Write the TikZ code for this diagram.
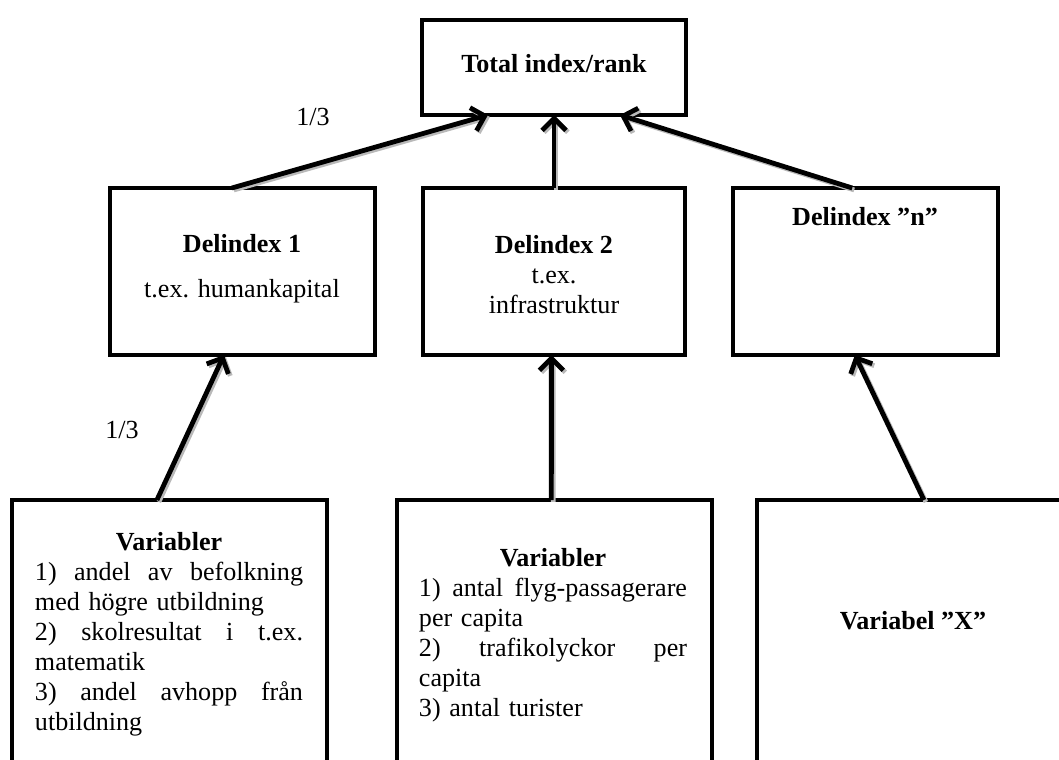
\documentclass[tikz,border=0pt]{standalone}
\usepackage{fontspec}
\setmainfont{Liberation Serif}
\usetikzlibrary{arrows.meta,calc}
\newcommand{\fulline}[1]{\makebox[\linewidth][s]{\spaceskip=0pt\xspaceskip=0pt\relax #1}}
\newcommand{\midline}[1]{\makebox[\linewidth][c]{#1}}

\begin{document}
\begin{tikzpicture}[x=0.46pt,y=-0.46pt]
				\tikzstyle{every node}+=[inner sep=0pt, font=\fontsize{12}{13.8}\selectfont]
				\tikzstyle{box}=[draw, line width=2.2pt, outer sep=0pt, anchor=north west]
				\tikzstyle{pil}=[line width=2.2pt, -{Straight Barb[length=5.5pt,width=11pt]}, preaction={draw=gray!55, line width=2.2pt, transform canvas={shift={(0.9pt,-0.9pt)}}}]
				\tikzstyle{lista}=[text width=123.3pt, align=left, anchor=north]
				\clip (0,0) rectangle (1059,760);
				\node [box, minimum width=121.44pt, minimum height=43.7pt] (total) at (422,20) {};
				\node [anchor=base] (ttotal) at (554,72) {\textbf{Total index/rank}};
				\node [box, minimum width=121.9pt, minimum height=76.82pt] (del1) at (110,188) {};
				\node [box, minimum width=120.52pt, minimum height=76.82pt] (del2) at (423,188) {};
				\node [box, minimum width=121.9pt, minimum height=76.82pt] (deln) at (733,188) {};
				\node [anchor=base] (tdel1) at (242,252) {\textbf{Delindex 1}};
				\node [anchor=base] (tkap) at (242,297) {t.ex. humankapital};
				\node [anchor=north, align=center] (tdel2) at (554,235) {\textbf{Delindex 2}\\t.ex.\\infrastruktur};
				\node [anchor=base] (tdeln) at (865,225) {\textbf{Delindex ”n”}};
				\node [box, minimum width=144.9pt, minimum height=133.4pt] (var1) at (12,500) {};
				\node [box, minimum width=144.9pt, minimum height=133.4pt] (var2) at (397,500) {};
				\node [box, minimum width=144.9pt, minimum height=133.4pt] (varx) at (757,500) {};
				\node [lista] (tvar1) at (169,532) {\midline{\textbf{Variabler}}\\
					\fulline{1) andel av befolkning}\\
					med högre utbildning\\
					\fulline{2) skolresultat i t.ex.}\\
					matematik\\
					\fulline{3) andel avhopp från}\\
					utbildning};
				\node [lista] (tvar2) at (553,548) {\midline{\textbf{Variabler}}\\
					\fulline{1) antal flyg-passagerare}\\
					per capita\\
					\fulline{2) trafikolyckor per}\\
					capita\\
					3) antal turister};
				\node [anchor=base] (tvarx) at (913,629) {\textbf{Variabel ”X”}};
				\node (w1) at (313,117) {1/3};
				\node (w2) at (122,430) {1/3};
				\draw [pil] ($(del1.north west)!.46!(del1.north east)$) -- ($(total.south west)!.25!(total.south east)$);
				\draw [pil] (del2.north) -- (total.south);
				\draw [pil] ($(deln.north west)!.45!(deln.north east)$) -- ($(total.south west)!.75!(total.south east)$);
				\draw [pil] ($(var1.north west)!.46!(var1.north east)$) -- ($(del1.south west)!.43!(del1.south east)$);
				\draw [pil] ($(var2.north west)!.49!(var2.north east)$) -- ($(del2.south west)!.49!(del2.south east)$);
				\draw [pil] ($(varx.north west)!.53!(varx.north east)$) -- ($(deln.south west)!.46!(deln.south east)$);
\end{tikzpicture}
\end{document}
